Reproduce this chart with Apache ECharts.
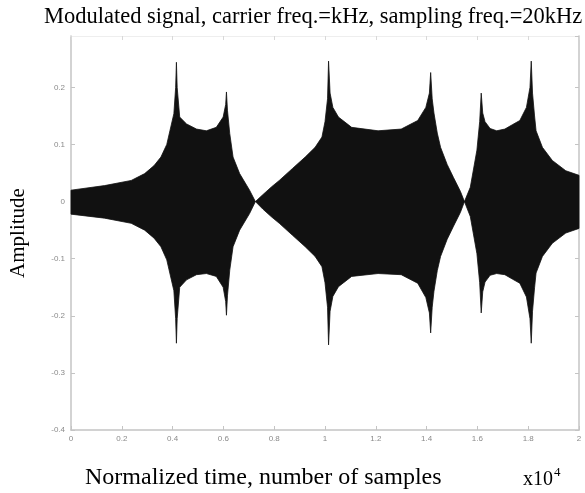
<!DOCTYPE html>
<html>
<head>
<meta charset="utf-8">
<script src="https://cdn.jsdelivr.net/npm/echarts@6/dist/echarts.min.js"></script>
<style>
  html, body { margin: 0; padding: 0; background: #fff; }
  #main { width: 585px; height: 493px; }
</style>
</head>
<body>
<div id="main"></div>
<script>
// time axis, in units of 10^4 samples
const times = [
  0, 0.132, 0.237, 0.290, 0.327, 0.354, 0.377, 0.405, 0.412, 0.415, 0.418, 0.428, 0.455, 0.494, 0.533, 0.572,
  0.599, 0.609, 0.612, 0.616, 0.625, 0.638, 0.664, 0.703, 0.726,
  0.755, 0.79, 0.82, 0.872, 0.922, 0.961, 0.988, 1.0, 1.010, 1.014, 1.02, 1.031, 1.053, 1.105, 1.209, 1.30,
  1.365, 1.397, 1.411, 1.416, 1.422, 1.429, 1.442, 1.455, 1.481, 1.506, 1.533, 1.549,
  1.572, 1.598, 1.609, 1.615, 1.621, 1.630, 1.650, 1.676, 1.708, 1.739, 1.767, 1.793, 1.807, 1.812,
  1.817, 1.825, 1.831, 1.856, 1.895, 1.948, 2.0
];
// upper envelope of the modulated signal
const upperEnv = [
  0.020, 0.028, 0.037, 0.049, 0.063, 0.078, 0.100, 0.154, 0.200, 0.244, 0.200, 0.148, 0.136, 0.127, 0.124, 0.130,
  0.148, 0.170, 0.192, 0.160, 0.119, 0.078, 0.049, 0.020, 0.0,
  0.012, 0.026, 0.037, 0.058, 0.078, 0.095, 0.113, 0.140, 0.180, 0.246, 0.190, 0.165, 0.148, 0.130, 0.124, 0.127,
  0.142, 0.165, 0.190, 0.226, 0.180, 0.155, 0.120, 0.095, 0.065, 0.042, 0.018, 0.0,
  0.025, 0.090, 0.140, 0.190, 0.155, 0.140, 0.128, 0.124, 0.127, 0.135, 0.142, 0.165, 0.200, 0.246,
  0.190, 0.150, 0.124, 0.095, 0.072, 0.054, 0.046
];
// lower envelope
const lowerEnv = [
  -0.022, -0.029, -0.038, -0.050, -0.064, -0.079, -0.102, -0.156, -0.205, -0.248, -0.205, -0.150, -0.137, -0.128, -0.126, -0.131,
  -0.150, -0.175, -0.199, -0.165, -0.120, -0.079, -0.050, -0.021, 0.0,
  -0.013, -0.027, -0.038, -0.059, -0.079, -0.096, -0.114, -0.142, -0.185, -0.251, -0.192, -0.166, -0.149, -0.131, -0.126, -0.128,
  -0.143, -0.168, -0.195, -0.230, -0.185, -0.157, -0.121, -0.096, -0.066, -0.043, -0.019, 0.0,
  -0.026, -0.091, -0.142, -0.195, -0.158, -0.141, -0.129, -0.126, -0.128, -0.136, -0.143, -0.167, -0.205, -0.248,
  -0.192, -0.151, -0.125, -0.096, -0.073, -0.055, -0.047
];

const chart = echarts.init(document.getElementById('main'));

const axisGrey = '#c4c4c4';
const labelStyle = { fontFamily: 'Liberation Sans', fontSize: 8, color: '#8a8a8a' };
const serif = 'Liberation Serif';

// one closed shape: upper envelope left->right, lower envelope back right->left
function renderEnvelope(params, api) {
  if (params.dataIndex !== 0) return;
  const pts = [];
  for (let i = 0; i < times.length; i++) pts.push(api.coord([times[i], upperEnv[i]]));
  for (let i = times.length - 1; i >= 0; i--) pts.push(api.coord([times[i], lowerEnv[i]]));
  return {
    type: 'polygon',
    shape: { points: pts },
    style: { fill: '#111', stroke: '#111', lineWidth: 0.8 }
  };
}

let option = {
  animation: false,
  backgroundColor: '#fff',
  title: [
    {
      text: 'Modulated signal, carrier freq.=kHz, sampling freq.=20kHz',
      left: 44, top: 6, padding: 0,
      textStyle: { fontFamily: serif, fontWeight: 'normal', fontSize: 22.5, color: '#000' }
    },
    {
      text: 'Normalized time, number of samples',
      left: 85, top: 466, padding: 0,
      textStyle: { fontFamily: serif, fontWeight: 'normal', fontSize: 24, color: '#000' }
    },
    {
      text: '{b|x10}{s|4}',
      left: 523, top: 464, padding: 0,
      textStyle: {
        fontWeight: 'normal',
        rich: {
          b: { fontFamily: serif, fontWeight: 'normal', fontSize: 20, color: '#000', padding: [6, 0, 0, 0] },
          s: { fontFamily: serif, fontWeight: 'normal', fontSize: 13, color: '#000', padding: [0, 0, 8, 1] }
        }
      }
    }
  ],
  grid: { left: 66, right: 6, top: 36, bottom: 63 },
  xAxis: [
    {
      type: 'value', min: 0, max: 2, interval: 0.2,
      axisLine: { show: true, onZero: false, lineStyle: { color: axisGrey, width: 1.5 } },
      axisTick: { show: true, inside: true, length: 4, lineStyle: { color: axisGrey } },
      axisLabel: Object.assign({ margin: 5 }, labelStyle),
      splitLine: { show: false }
    },
    {
      type: 'value', position: 'top', min: 0, max: 2, interval: 0.2,
      axisLine: { show: true, onZero: false, lineStyle: { color: '#eeeeee', width: 1 } },
      axisTick: { show: true, inside: true, length: 4, lineStyle: { color: '#d8d8d8' } },
      axisLabel: { show: false },
      splitLine: { show: false }
    }
  ],
  yAxis: [
    {
      type: 'value', min: -0.4, max: 0.29, interval: 0.1,
      name: 'Amplitude', nameLocation: 'middle', nameRotate: 90, nameGap: 42,
      nameTextStyle: { fontFamily: serif, fontSize: 21, color: '#000' },
      axisLine: { show: true, onZero: false, lineStyle: { color: axisGrey, width: 1.5 } },
      axisTick: { show: true, inside: true, length: 4, lineStyle: { color: axisGrey } },
      axisLabel: Object.assign({ margin: 6, showMaxLabel: false }, labelStyle),
      splitLine: { show: false }
    },
    {
      type: 'value', position: 'right', min: -0.4, max: 0.29, interval: 0.1,
      axisLine: { show: true, onZero: false, lineStyle: { color: axisGrey, width: 1.5 } },
      axisTick: { show: true, inside: true, length: 4, lineStyle: { color: axisGrey } },
      axisLabel: { show: false },
      splitLine: { show: false }
    }
  ],
  series: [
    {
      name: 'signal', type: 'custom',
      renderItem: renderEnvelope,
      data: [[0, 0]],
      encode: { x: 0, y: 1 },
      silent: true
    }
  ]
};
chart.setOption(option);
</script>
</body>
</html>
